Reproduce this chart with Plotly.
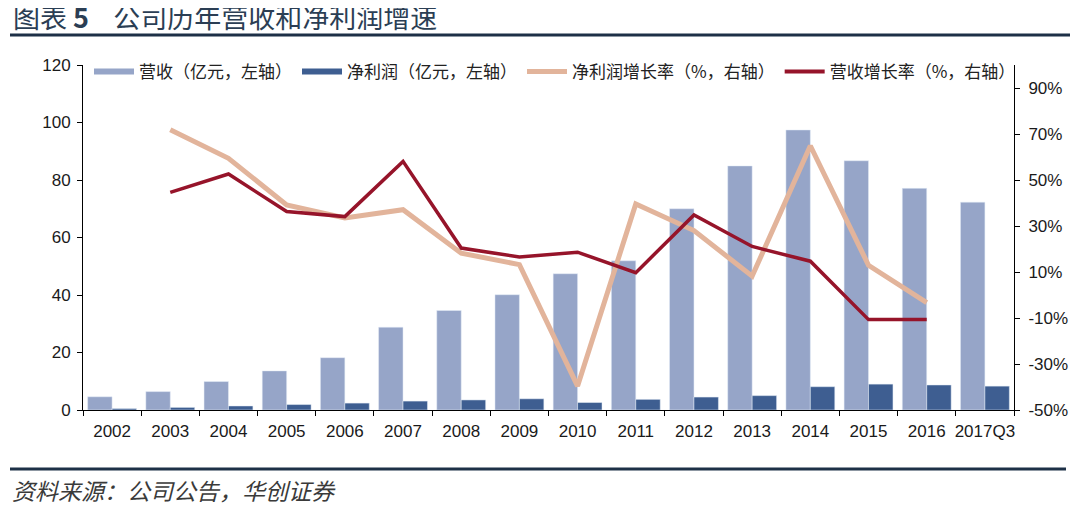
import plotly.graph_objects as go

years = ["2002", "2003", "2004", "2005", "2006", "2007", "2008", "2009",
         "2010", "2011", "2012", "2013", "2014", "2015", "2016", "2017Q3"]
revenue = [4.6, 6.4, 9.9, 13.6, 18.2, 28.8, 34.6, 40.1, 47.4, 51.9, 70.0,
           84.9, 97.4, 86.7, 77.1, 72.3]
net_profit = [0.5, 0.9, 1.4, 1.9, 2.4, 3.1, 3.5, 3.9, 2.6, 3.7, 4.5,
              5.0, 8.1, 9.0, 8.7, 8.3]
np_growth = [None, 71.8, 59.4, 39.2, 33.5, 37.1, 18.2, 13.2, -39.6, 39.6,
             28.0, 8.2, 64.9, 12.9, -3.3, None]
rev_growth = [None, 44.6, 52.6, 36.3, 34.1, 58.1, 20.4, 16.5, 18.6, 9.7,
              34.8, 21.1, 14.7, -10.7, -10.7, None]
left_ticks = [0, 20, 40, 60, 80, 100, 120]
right_ticks = [-50, -30, -10, 10, 30, 50, 70, 90]

names = ["营收（亿元，左轴）", "净利润（亿元，左轴）", "净利润增长率（%，右轴）", "营收增长率（%，右轴）"]
c_rev = "#96a5c8"
c_np = "#3e5e91"
c_npg = "#e2b49b"
c_revg = "#96142a"

# page body has an 8px margin: work in screen coords and shift
O = 8
W, H = 1078 - O, 509 - O
L, R, T, B = 83 - O, 1014 - O, 65 - O, 410 - O
pw, ph = R - L, B - T


def px(x):
    return (x - O - L) / pw


def py(y):
    return (B - (y - O)) / ph


fig = go.Figure()
fig.add_trace(go.Bar(x=years, y=revenue, name=names[0], marker_color=c_rev,
                     showlegend=False))
fig.add_trace(go.Bar(x=years, y=net_profit, name=names[1], marker_color=c_np,
                     showlegend=False))
fig.add_trace(go.Scatter(x=years, y=np_growth, name=names[2], yaxis="y2",
                         mode="lines", line=dict(color=c_npg, width=5),
                         showlegend=False))
fig.add_trace(go.Scatter(x=years, y=rev_growth, name=names[3], yaxis="y2",
                         mode="lines", line=dict(color=c_revg, width=3.5),
                         showlegend=False))
# legend entries drawn as line swatches
for nm, col, wd in zip(names, [c_rev, c_np, c_npg, c_revg], [6, 6, 5, 4]):
    fig.add_trace(go.Scatter(x=[None], y=[None], name=nm, mode="lines",
                             line=dict(color=col, width=wd)))

axis_font = dict(family="Liberation Sans, Arial, sans-serif", size=17, color="#1a1a1a")

fig.update_layout(
    width=W, height=H,
    margin=dict(l=L, r=W - R, t=T, b=H - B, autoexpand=False),
    paper_bgcolor="white", plot_bgcolor="white",
    barmode="group", bargap=0.16, bargroupgap=0,
    font=dict(family="Noto Sans CJK SC, sans-serif"),
    xaxis=dict(type="category", showline=True, linecolor="black", linewidth=1,
               ticks="outside", tickson="boundaries", ticklen=5, tickcolor="black",
               tickfont=axis_font, ticklabelstandoff=6,
               tickangle=0, automargin=False, showgrid=False, zeroline=False),
    yaxis=dict(range=[0, 120], tickvals=left_ticks, showline=True, linecolor="black",
               linewidth=1, ticks="outside", ticklen=5, tickcolor="black",
               tickfont=axis_font, ticklabelstandoff=3,
               showgrid=False, zeroline=False, automargin=False),
    yaxis2=dict(range=[-50, 100], tickvals=right_ticks,
                ticktext=[f"{v}%" for v in right_ticks], overlaying="y", side="right",
                showline=True, linecolor="black", linewidth=1, ticks="outside",
                ticklen=5, tickcolor="black", tickfont=axis_font, ticklabelstandoff=5,
                showgrid=False, zeroline=False, automargin=False),
    legend=dict(orientation="h", x=px(89), y=py(54), xanchor="left", yanchor="top",
                font=dict(family="Noto Sans CJK SC, sans-serif", size=17, color="#222"),
                bgcolor="rgba(0,0,0,0)", itemwidth=40, traceorder="normal"),
)

fig.add_annotation(
    text="图表 <b>5</b>&nbsp;&nbsp;&nbsp;&nbsp;公司历年营收和净利润增速",
    xref="paper", yref="paper", x=px(11), y=py(17), xanchor="left", yanchor="middle",
    showarrow=False, font=dict(family="Noto Sans CJK SC, sans-serif", size=27, color="#2b3e54"))
fig.add_annotation(
    text="<i>资料来源：公司公告，华创证券</i>",
    xref="paper", yref="paper", x=px(10), y=py(490), xanchor="left", yanchor="middle",
    showarrow=False, font=dict(family="Noto Sans CJK SC, sans-serif", size=23, color="#3a3a3a"))

fig.add_shape(type="line", xref="paper", yref="paper", x0=px(10), x1=px(1078),
              y0=py(35), y1=py(35), line=dict(color="#1d3047", width=3))
fig.add_shape(type="line", xref="paper", yref="paper", x0=px(10), x1=px(1066),
              y0=py(469), y1=py(469), line=dict(color="#1d3047", width=3))

fig.write_html("out.html")
